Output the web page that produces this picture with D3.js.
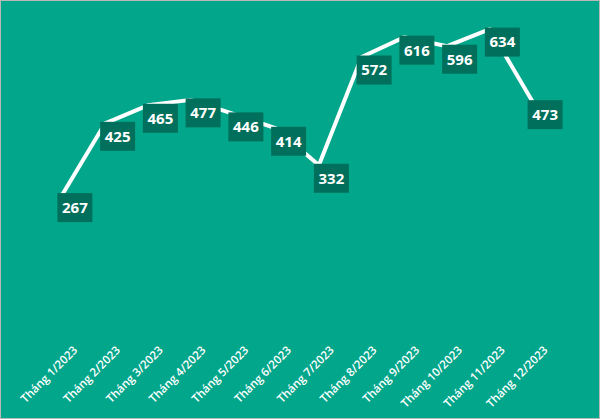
<!DOCTYPE html>
<html><head><meta charset="utf-8">
<script src="https://cdn.jsdelivr.net/npm/d3@7"></script>
<style>html,body{margin:0;padding:0;background:#fff}</style>
</head><body>
<script>
const categories = ["Tháng 1/2023","Tháng 2/2023","Tháng 3/2023","Tháng 4/2023","Tháng 5/2023","Tháng 6/2023","Tháng 7/2023","Tháng 8/2023","Tháng 9/2023","Tháng 10/2023","Tháng 11/2023","Tháng 12/2023"];
const values = [267,425,465,477,446,414,332,572,616,596,634,473];

const W=600,H=419;
const svg=d3.select("body").append("svg").attr("width",W).attr("height",H);
svg.append("rect").attr("x",0.5).attr("y",0.5).attr("width",W-1).attr("height",H-1)
  .attr("fill","#02a68a").attr("stroke","#b8b8b8");

const x=d3.scaleBand().domain(categories).range([41,554]);
const y=d3.scaleLinear().domain([0,700]).range([315,-0.7]);
const cx=d=>x(d)+x.bandwidth()/2;

const line=d3.line().x((d,i)=>cx(categories[i])).y(d=>y(d));
svg.append("path").datum(values).attr("d",line).attr("fill","none")
  .attr("stroke","#fff").attr("stroke-width",4).attr("stroke-linejoin","round");

const g=svg.append("g").selectAll("g").data(values).join("g")
  .attr("transform",(d,i)=>`translate(${cx(categories[i])+12.5},${y(d)+13})`);
g.append("rect").attr("x",-17.5).attr("y",-14.5).attr("width",35).attr("height",29)
  .attr("fill","#00705c");
g.append("text").attr("text-anchor","middle").attr("dy","0.36em")
  .attr("fill","#fff").attr("font-family","Open Sans, sans-serif").attr("font-weight","bold")
  .attr("font-size",15).text(d=>d);

const ax=svg.append("g").attr("transform","translate(0,332)")
  .call(d3.axisBottom(x).tickSize(0).tickPadding(0));
ax.select(".domain").remove();
ax.selectAll("text").attr("fill","#fff").attr("font-family","Open Sans, sans-serif")
  .attr("font-size",11.5).attr("font-weight",600).attr("text-anchor","end")
  .attr("transform","translate(13,16) rotate(-45)").attr("dy","0.35em").attr("dx","0");
</script>
</body></html>
